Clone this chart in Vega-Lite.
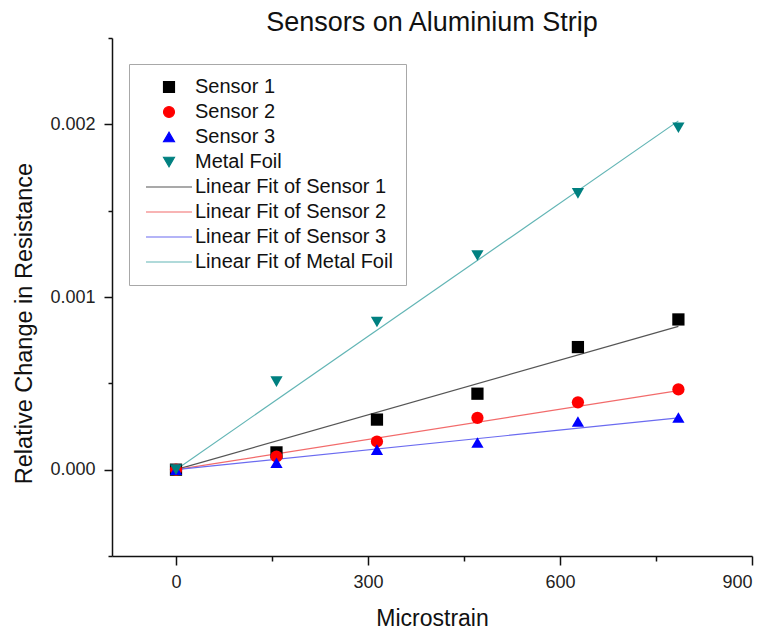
{
  "$schema": "https://vega.github.io/schema/vega-lite/v6.json",
  "autosize": "none",
  "width": 640,
  "height": 518,
  "padding": {"left": 112, "top": 38, "right": 14, "bottom": 76},
  "background": "white",
  "title": {"text": "Sensors on Aluminium Strip", "font": "Liberation Sans", "fontSize": 27, "fontWeight": "normal", "color": "#111", "anchor": "middle", "offset": 0},
  "config": {
    "view": {"stroke": null},
    "axis": {"grid": false, "domainColor": "#111", "domainWidth": 1.5, "tickColor": "#111", "tickWidth": 1.5, "labelFont": "Liberation Sans", "labelFontSize": 18, "labelColor": "#222", "titleFont": "Liberation Sans", "titleFontSize": 23, "titleFontWeight": "normal", "titleColor": "#111"}
  },
  "datasets": {
    "points": [
      {"strain": 0, "value": 0, "series": "Sensor 1"},
      {"strain": 157, "value": 0.0001, "series": "Sensor 1"},
      {"strain": 314, "value": 0.00029, "series": "Sensor 1"},
      {"strain": 471, "value": 0.00044, "series": "Sensor 1"},
      {"strain": 628, "value": 0.00071, "series": "Sensor 1"},
      {"strain": 785, "value": 0.00087, "series": "Sensor 1"},
      {"strain": 0, "value": 0, "series": "Sensor 2"},
      {"strain": 157, "value": 0.000076, "series": "Sensor 2"},
      {"strain": 314, "value": 0.000163, "series": "Sensor 2"},
      {"strain": 471, "value": 0.0003, "series": "Sensor 2"},
      {"strain": 628, "value": 0.00039, "series": "Sensor 2"},
      {"strain": 785, "value": 0.000465, "series": "Sensor 2"},
      {"strain": 0, "value": 0, "series": "Sensor 3"},
      {"strain": 157, "value": 0.00004, "series": "Sensor 3"},
      {"strain": 314, "value": 0.000116, "series": "Sensor 3"},
      {"strain": 471, "value": 0.000157, "series": "Sensor 3"},
      {"strain": 628, "value": 0.000279, "series": "Sensor 3"},
      {"strain": 785, "value": 0.000302, "series": "Sensor 3"},
      {"strain": 0, "value": 0, "series": "Metal Foil"},
      {"strain": 157, "value": 0.00051, "series": "Metal Foil"},
      {"strain": 314, "value": 0.000855, "series": "Metal Foil"},
      {"strain": 471, "value": 0.00124, "series": "Metal Foil"},
      {"strain": 628, "value": 0.0016, "series": "Metal Foil"},
      {"strain": 785, "value": 0.00198, "series": "Metal Foil"}
    ],
    "fits": [
      {"strain": 0, "value": 0, "series": "Linear Fit of Sensor 1"},
      {"strain": 785, "value": 0.00083, "series": "Linear Fit of Sensor 1"},
      {"strain": 0, "value": 0, "series": "Linear Fit of Sensor 2"},
      {"strain": 785, "value": 0.000458, "series": "Linear Fit of Sensor 2"},
      {"strain": 0, "value": 0, "series": "Linear Fit of Sensor 3"},
      {"strain": 785, "value": 0.0003, "series": "Linear Fit of Sensor 3"},
      {"strain": 0, "value": 0, "series": "Linear Fit of Metal Foil"},
      {"strain": 785, "value": 0.00202, "series": "Linear Fit of Metal Foil"}
    ]
  },
  "encoding": {
    "x": {"field": "strain", "type": "quantitative", "title": "Microstrain",
      "scale": {"domain": [-100, 900], "nice": false, "zero": false},
      "axis": {"values": [0, 150, 300, 450, 600, 750, 900], "labelExpr": "datum.value % 300 == 0 ? datum.label : ''",
        "tickSize": {"condition": {"test": "datum.value % 300 == 0", "value": 9}, "value": 5},
        "labelPadding": 8, "titlePadding": 16}},
    "y": {"field": "value", "type": "quantitative", "title": "Relative Change in Resistance",
      "scale": {"domain": [-0.0005, 0.0025], "nice": false, "zero": false},
      "axis": {"values": [-0.0005, 0, 0.0005, 0.001, 0.0015, 0.002, 0.0025],
        "labelExpr": "round(datum.value*2000) % 2 == 0 ? format(datum.value, '.3f') : ''",
        "tickSize": {"condition": {"test": "round(datum.value*2000) % 2 == 0", "value": 8}, "value": 4},
        "labelPadding": 9, "titleFontSize": 23.5, "titleX": -88, "titleY": 285, "titleBaseline": "middle", "titleAlign": "center", "titleAngle": -90}},
    "color": {"field": "series", "type": "nominal", "title": null,
      "scale": {
        "domain": ["Sensor 1", "Sensor 2", "Sensor 3", "Metal Foil", "Linear Fit of Sensor 1", "Linear Fit of Sensor 2", "Linear Fit of Sensor 3", "Linear Fit of Metal Foil"],
        "range": ["#000000", "#ff0000", "#0000ff", "#008080", "#555555", "#f26b6b", "#6b6bf0", "#62b5b5"]
      },
      "legend": {
        "orient": "none", "legendX": 17, "legendY": 26,
        "padding": 13, "strokeColor": "#a8a8a8", "fillColor": "white",
        "labelFont": "Liberation Sans", "labelFontSize": 20, "labelColor": "#111", "labelLimit": 400,
        "symbolSize": 120, "symbolOffset": 17, "labelOffset": 16, "rowPadding": 5,
        "symbolStrokeWidth": 1.2,
        "encode": {"symbols": {"update": {
          "fill": {"scale": "color", "field": "value"},
          "stroke": {"scale": "color", "field": "value"},
          "strokeWidth": {"value": 1.2},
          "opacity": {"value": 1}
        }}}
      }
    }
  },
  "layer": [
    {
      "data": {"name": "fits"},
      "mark": {"type": "line", "strokeWidth": 1.2},
      "encoding": {"detail": {"field": "series"}}
    },
    {
      "data": {"name": "points"},
      "mark": {"type": "point", "filled": true, "size": 150, "opacity": 1},
      "encoding": {
        "shape": {"field": "series", "type": "nominal",
          "scale": {
            "domain": ["Sensor 1", "Sensor 2", "Sensor 3", "Metal Foil", "Linear Fit of Sensor 1", "Linear Fit of Sensor 2", "Linear Fit of Sensor 3", "Linear Fit of Metal Foil"],
            "range": ["square", "circle", "triangle-up", "triangle-down", "M-4.2,0H4.2", "M-4.2,0H4.2", "M-4.2,0H4.2", "M-4.2,0H4.2"]
          },
          "legend": null
        }
      }
    }
  ]
}
